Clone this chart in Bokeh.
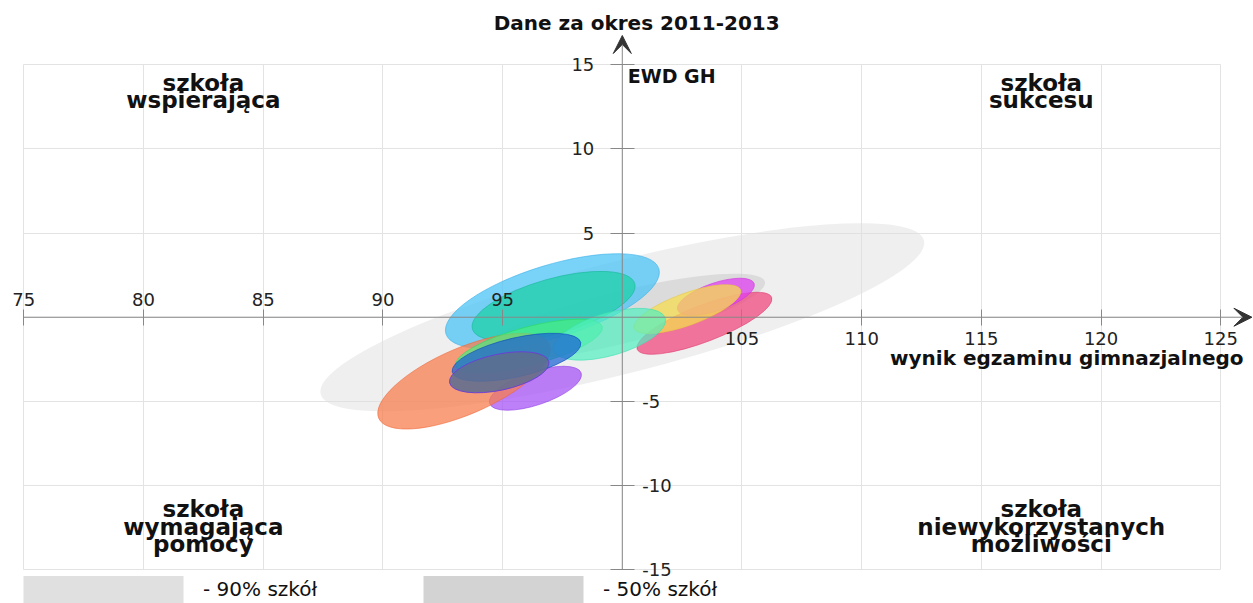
from bokeh.plotting import figure
from bokeh.models import (ColumnDataSource, LinearAxis, FixedTicker, Grid, Arrow, VeeHead,
                          Label, Legend, LegendItem)
from bokeh.embed import file_html
from bokeh.resources import INLINE

# ---------------- data ----------------
TITLE = "Dane za okres 2011-2013"
X_LABEL = "wynik egzaminu gimnazjalnego"
Y_LABEL = "EWD GH"

X_TICKS_LEFT = [75, 80, 85, 90, 95]
X_TICKS_RIGHT = [105, 110, 115, 120, 125]
Y_TICKS_UP = [5, 10, 15]
Y_TICKS_DOWN = [-15, -10, -5]
X_GRID = [75, 80, 85, 90, 95, 100, 105, 110, 115, 120, 125]
Y_GRID = [-15, -10, -5, 0, 5, 10, 15]

LEGEND_LABELS = ["- 90% szkół", "- 50% szkół"]

# ellipses (drawing order bottom -> top)
SERIES = ["90% szkół", "50% szkół", "s1", "s2", "s3", "s4", "s5", "s6", "s7", "s8", "s9", "s10", "s11"]
CX = [100.0, 100.0, 97.08, 97.13, 96.37, 93.39, 96.10, 103.43, 103.91, 102.72, 99.47, 95.58, 94.86]
CY = [0.0, 0.0, 0.95, 0.65, -4.22, -3.80, -1.72, -0.36, 1.22, 0.48, -1.01, -2.38, -3.27]
W = [26.0, 12.28, 9.30, 7.04, 4.03, 7.77, 6.34, 6.02, 3.38, 4.73, 4.84, 5.51, 4.24]
H = [6.65, 3.09, 4.31, 3.28, 1.98, 3.92, 2.28, 2.16, 1.63, 1.90, 2.53, 2.31, 2.14]
ANGLE = [14.3, 14.0, 17.0, 15.6, 18.5, 23.5, 15.0, 21.1, 19.0, 20.0, 16.0, 13.0, 12.0]

FILL = ["#e0e0e0", "#c8c8c8", "#4cc3f5", "#1fd0a8", "#a855f7", "#f77f4f", "#48ee80",
        "#f04a80", "#e040f0", "#f5dc50", "#50f0c0", "#1a62d4", "#5f6d90"]
ALPHA = [0.5, 0.5, 0.75, 0.75, 0.75, 0.75, 0.7, 0.75, 0.75, 0.75, 0.7, 0.72, 0.88]
LINE = ["#e0e0e0", "#c8c8c8", "#3ab0e8", "#18b898", "#9040e8", "#f06838", "#30d860",
        "#e03a70", "#d030e0", "#e8c840", "#40e0b0", "#0a4ac0", "#6a3cd8"]
LINE_ALPHA = [0, 0, 0.6, 0.6, 0.6, 0.6, 0.6, 0.6, 0.6, 0.6, 0.6, 0.6, 0.9]

FONT = "DejaVu Sans"

src = ColumnDataSource(dict(name=SERIES, x=CX, y=CY, w=W, h=H, a=ANGLE, fill=FILL,
                            alpha=ALPHA, line=LINE, lalpha=LINE_ALPHA))

# frame covers the whole canvas; ranges chosen so that the 75..125 x -15..15 box
# sits where the reference draws it
p = figure(width=1253, height=603, x_range=(74.027, 126.366), y_range=(-17.01, 18.82),
           x_axis_type=None, y_axis_type=None,
           output_backend="svg", toolbar_location=None,
           min_border_left=0, min_border_right=0, min_border_top=0, min_border_bottom=0)
p.outline_line_color = None
p.background_fill_color = "white"
p.border_fill_color = "white"

# grid limited to the 75..125 x -15..15 box
GRID_COLOR = "#e3e3e3"
try:
    p.add_layout(Grid(dimension=0, ticker=FixedTicker(ticks=X_GRID), grid_line_color=GRID_COLOR,
                      cross_bounds=(min(Y_GRID), max(Y_GRID))), "center")
    p.add_layout(Grid(dimension=1, ticker=FixedTicker(ticks=Y_GRID), grid_line_color=GRID_COLOR,
                      cross_bounds=(min(X_GRID), max(X_GRID))), "center")
except AttributeError:
    p.segment(x0=X_GRID, y0=[min(Y_GRID)] * len(X_GRID), x1=X_GRID, y1=[max(Y_GRID)] * len(X_GRID),
              line_color=GRID_COLOR, line_width=1)
    p.segment(x0=[min(X_GRID)] * len(Y_GRID), y0=Y_GRID, x1=[max(X_GRID)] * len(Y_GRID), y1=Y_GRID,
              line_color=GRID_COLOR, line_width=1)

# ellipses
p.ellipse(x="x", y="y", width="w", height="h", angle="a", angle_units="deg", source=src,
          fill_color="fill", fill_alpha="alpha", line_color="line", line_alpha="lalpha",
          line_width=1)

# axes crossing at (100, 0)
def style_axis(ax, tin, tout, standoff):
    ax.axis_line_color = None
    ax.major_tick_line_color = "#888888"
    ax.major_tick_in = tin
    ax.major_tick_out = tout
    ax.minor_tick_line_color = None
    ax.major_label_text_font = FONT
    ax.major_label_text_font_size = "18px"
    ax.major_label_text_color = "#222222"
    ax.major_label_standoff = standoff

ax_top = LinearAxis(fixed_location=0, ticker=FixedTicker(ticks=X_TICKS_LEFT))
style_axis(ax_top, 8, 8, 3)
p.add_layout(ax_top, "above")
ax_bot = LinearAxis(fixed_location=0, ticker=FixedTicker(ticks=X_TICKS_RIGHT))
style_axis(ax_bot, 8, 8, 7)
p.add_layout(ax_bot, "below")
ay_left = LinearAxis(fixed_location=100, ticker=FixedTicker(ticks=Y_TICKS_UP))
style_axis(ay_left, 12, 12, 16)
p.add_layout(ay_left, "left")
ay_right = LinearAxis(fixed_location=100, ticker=FixedTicker(ticks=Y_TICKS_DOWN),
                      major_label_overrides={t: str(t) for t in Y_TICKS_DOWN})
style_axis(ay_right, 12, 12, 8)
p.add_layout(ay_right, "right")

# axis lines with arrow heads
head = dict(size=18, fill_color="#333333", line_color="#333333", line_width=1)
p.add_layout(Arrow(end=VeeHead(**head), x_start=75, y_start=0, x_end=126.3, y_end=0,
                   line_color="#888888", line_width=1))
p.add_layout(Arrow(end=VeeHead(**head), x_start=100, y_start=-15, x_end=100, y_end=16.74,
                   line_color="#888888", line_width=1))

# texts
def lab(x, y, text, size, align="center", bold=True, baseline="alphabetic"):
    p.add_layout(Label(x=x, y=y, text=text, text_font=FONT, text_font_size=size,
                       text_font_style="bold" if bold else "normal", text_align=align,
                       text_baseline=baseline, text_color="#111111"))

lab(100.6, 17.5, TITLE, "20px", baseline="middle")
lab(100.23, 14.32, Y_LABEL, "19px", align="left")
lab(125.95, -2.40, X_LABEL, "20px", align="right")

Q_SIZE = "23px"
lab(82.5, 13.92, "szkoła", Q_SIZE)
lab(82.5, 12.90, "wspierająca", Q_SIZE)
lab(117.5, 13.92, "szkoła", Q_SIZE)
lab(117.5, 12.90, "sukcesu", Q_SIZE)
lab(82.5, -11.42, "szkoła", Q_SIZE)
lab(82.5, -12.49, "wymagająca", Q_SIZE)
lab(82.5, -13.50, "pomocy", Q_SIZE)
lab(117.5, -11.42, "szkoła", Q_SIZE)
lab(117.5, -12.49, "niewykorzystanych", Q_SIZE)
lab(117.5, -13.50, "możliwości", Q_SIZE)

# legend swatches (renderers with no visible point; they only feed the legend)
NAN = float("nan")
r90 = p.rect(x=[NAN], y=[NAN], width=1, height=1, fill_color="#e0e0e0", line_color=None)
r50 = p.rect(x=[NAN], y=[NAN], width=1, height=1, fill_color="#d3d3d3", line_color=None)
legend = Legend(items=[LegendItem(label=LEGEND_LABELS[0], renderers=[r90]),
                       LegendItem(label=LEGEND_LABELS[1], renderers=[r50])],
                location=(3, -3), orientation="horizontal",
                glyph_width=200, glyph_height=34, label_standoff=0, label_width=200,
                spacing=0, padding=0, margin=0, border_line_color=None,
                background_fill_alpha=0, label_text_font=FONT, label_text_font_size="20px",
                label_text_color="#111111")
p.add_layout(legend)

open("out.html", "w").write(file_html(p, INLINE))
